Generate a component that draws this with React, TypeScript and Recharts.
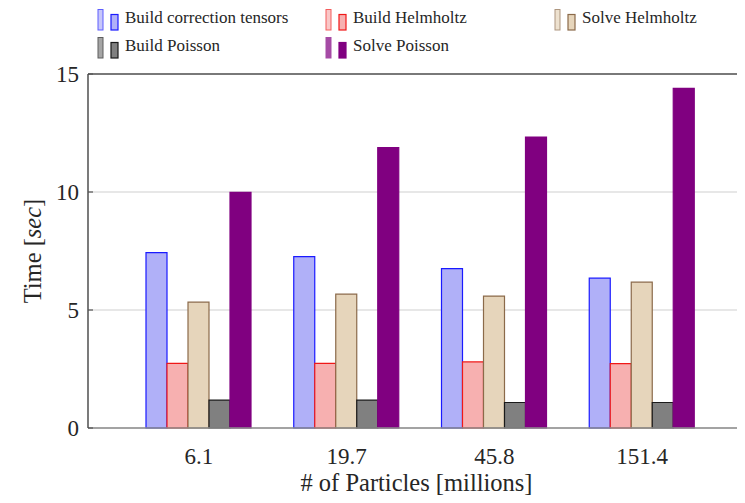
import React from 'react';
import {
  BarChart,
  Bar,
  XAxis,
  YAxis,
  CartesianGrid,
  ReferenceLine,
  Legend,
  Label,
} from 'recharts';

const particles = ['6.1', '19.7', '45.8', '151.4'];
const buildCorrection = [7.43, 7.26, 6.75, 6.35];
const buildHelmholtz = [2.74, 2.74, 2.8, 2.73];
const solveHelmholtz = [5.33, 5.67, 5.59, 6.18];
const buildPoisson = [1.18, 1.18, 1.08, 1.08];
const solvePoisson = [9.98, 11.88, 12.33, 14.39];
const yTicks = [0, 5, 10, 15];

const SERIES = [
  { key: 'bct', name: 'Build correction tensors', fill: '#b0b0f8', stroke: '#1a1aff', values: buildCorrection },
  { key: 'bh', name: 'Build Helmholtz', fill: '#f7b0b0', stroke: '#f01818', values: buildHelmholtz },
  { key: 'sh', name: 'Solve Helmholtz', fill: '#e6d5bb', stroke: '#8b6a4a', values: solveHelmholtz },
  { key: 'bp', name: 'Build Poisson', fill: '#808080', stroke: '#1a1a1a', values: buildPoisson },
  { key: 'sp', name: 'Solve Poisson', fill: '#800080', stroke: '#800080', values: solvePoisson },
];

const data = particles.map((p, i) => {
  const row: any = { particles: p };
  SERIES.forEach((s) => (row[s.key] = s.values[i]));
  return row;
});

const FONT = '"Liberation Serif", "Times New Roman", serif';
const TEXT = '#262626';

// legend items laid out like the pgfplots legend (3 columns, 2 rows)
const LEGEND_POS = [
  { x: 89, y: 0 },
  { x: 317, y: 0 },
  { x: 546, y: 0 },
  { x: 89, y: 28 },
  { x: 317, y: 28 },
];

function LegendIcon({ fill, stroke }: { fill: string; stroke: string }) {
  return (
    <svg width={24} height={24} style={{ position: 'absolute', left: 0, top: 0 }}>
      <rect x={1} y={1.5} width={5} height={20.5} fill={fill} stroke={stroke} strokeWidth={1} opacity={0.7} />
      <rect x={14} y={6.5} width={7} height={15.5} fill={fill} stroke={stroke} strokeWidth={1.2} />
    </svg>
  );
}

function CustomLegend() {
  return (
    <div style={{ position: 'relative', width: 737, height: 60 }}>
      {SERIES.map((s, i) => (
        <div
          key={s.key}
          style={{ position: 'absolute', left: LEGEND_POS[i].x, top: LEGEND_POS[i].y }}
        >
          <LegendIcon fill={s.fill} stroke={s.stroke} />
          <span
            style={{
              position: 'absolute',
              left: 28,
              top: 0,
              whiteSpace: 'nowrap',
              fontFamily: FONT,
              fontSize: 17,
              lineHeight: '20px',
              color: TEXT,
            }}
          >
            {s.name}
          </span>
        </div>
      ))}
    </div>
  );
}

export default function App() {
  return (
    <BarChart
      width={737}
      height={495}
      data={data}
      margin={{ top: 66, right: 0, bottom: 15, left: 30 }}
      barGap={0}
      barSize={21}
    >
      <CartesianGrid vertical={false} stroke="#cfcfcf" strokeWidth={1.2} />
      <XAxis
        dataKey="particles"
        height={60}
        padding={{ left: 37, right: 29 }}
        tickLine={false}
        tickSize={0}
        tickMargin={20}
        axisLine={{ stroke: '#8c8c8c', strokeWidth: 1.3 }}
        tick={{ fill: TEXT, fontSize: 23, fontFamily: FONT }}
      >
        <Label
          value="# of Particles [millions]"
          position="insideBottom"
          offset={-3}
          style={{ fill: TEXT, fontSize: 24.5, fontFamily: FONT }}
        />
      </XAxis>
      <YAxis
        domain={[0, 15]}
        ticks={yTicks}
        width={50}
        tickSize={-5}
        tickMargin={14}
        tickLine={{ stroke: '#555', strokeWidth: 1.2 }}
        axisLine={{ stroke: '#333', strokeWidth: 1.3 }}
        tick={{ fill: TEXT, fontSize: 23, fontFamily: FONT }}
        label={(props: any) => {
          const { viewBox } = props;
          const cx = 24;
          const cy = viewBox.y + viewBox.height / 2;
          return (
            <text
              x={cx}
              y={cy}
              transform={`rotate(-90, ${cx}, ${cy})`}
              textAnchor="middle"
              dominantBaseline="central"
              fill={TEXT}
              fontSize={24.5}
              fontFamily={FONT}
            >
              Time [<tspan fontStyle="italic">sec</tspan>]
            </text>
          );
        }}
      />
      <ReferenceLine y={15} stroke="#555" strokeWidth={1.3} ifOverflow="extendDomain" />
      <Legend
        verticalAlign="middle"
        layout="horizontal"
        wrapperStyle={{ top: 0, left: 0, width: 737 }}
        content={() => <CustomLegend />}
      />
      {SERIES.map((s) => (
        <Bar
          key={s.key}
          dataKey={s.key}
          name={s.name}
          fill={s.fill}
          stroke={s.stroke}
          strokeWidth={1.2}
          isAnimationActive={false}
        />
      ))}
    </BarChart>
  );
}
